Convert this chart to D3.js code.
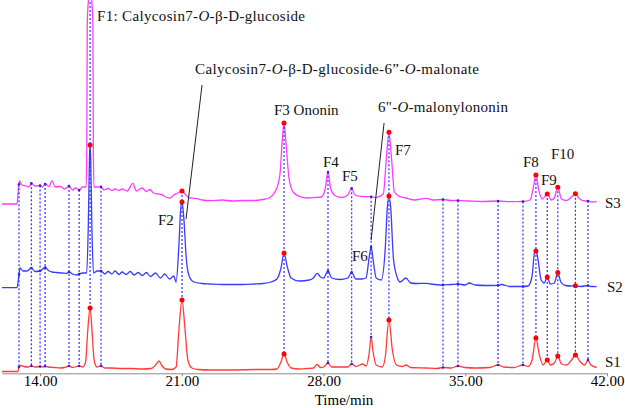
<!DOCTYPE html>
<html lang="en">
<head>
  <meta charset="UTF-8">
  <title>HPLC fingerprints S1-S3</title>
  <script src="https://cdn.jsdelivr.net/npm/d3@7"></script>
  <style>
    body { margin: 0; background: #fff; }
  </style>
</head>
<body>
<svg></svg>
<script>
  const width = 625, height = 408
  const serif = '"Liberation Serif", "Times New Roman", "DejaVu Serif", serif'

  // [time (min), signal above own baseline]
  const s1 = [[12.12, 0.5], [12.91, 0.5], [12.96, 5], [13.05, 6.5], [13.2, 5.5], [13.4, 5], [13.57, 6], [13.75, 5],
    [14.0, 5.5], [14.12, 5], [14.25, 5.8], [14.4, 5], [14.7, 4.5], [15.0, 4], [15.2, 4.5], [15.43, 6], [15.6, 4.5],
    [15.93, 6], [16.1, 5], [16.25, 10], [16.35, 40], [16.47, 64], [16.57, 40], [16.67, 12], [16.81, 5], [17.01, 6],
    [17.2, 4], [17.5, 4], [18.0, 3.5], [18.5, 3.5], [19.0, 3], [19.5, 3.5], [19.75, 8], [19.88, 11], [20.0, 7],
    [20.2, 3], [20.5, 2.5], [20.72, 5], [20.85, 40], [21.01, 72], [21.15, 45], [21.3, 12], [21.5, 4], [21.8, 2.5],
    [22.4, 2], [23.5, 2], [24.6, 2.5], [25.4, 2.5], [25.7, 3], [25.9, 10], [26.05, 18], [26.2, 10], [26.4, 4],
    [26.8, 3], [27.2, 3.5], [27.5, 4], [27.68, 7.5], [27.85, 4.5], [28.0, 5], [28.22, 9], [28.4, 5], [28.8, 5],
    [29.2, 5], [29.39, 8], [29.6, 5.5], [29.94, 8], [30.1, 6], [30.25, 18], [30.35, 35], [30.45, 20], [30.6, 7],
    [30.9, 5], [31.05, 15], [31.23, 52], [31.4, 22], [31.6, 7], [31.9, 5.5], [32.07, 7], [32.3, 4.5], [33.0, 4],
    [33.6, 3.5], [33.9, 4.5], [34.3, 4], [34.64, 6], [35.0, 4.5], [35.5, 4], [36.2, 4.5], [36.62, 7], [36.9, 5],
    [37.4, 4.5], [37.85, 7], [38.1, 5.5], [38.3, 12], [38.49, 34], [38.65, 18], [38.85, 7], [39.05, 12], [39.2, 7],
    [39.4, 9], [39.57, 16], [39.75, 8], [40.0, 7], [40.25, 12], [40.44, 17], [40.65, 11], [40.9, 7], [41.06, 12],
    [41.2, 7], [41.49, 4.5]]

  const s2 = [[12.12, 0.3], [12.86, 0.3], [12.95, 12], [13.01, 20], [13.15, 17], [13.35, 17], [13.57, 20], [13.75, 16.5],
    [14.0, 17], [14.25, 20.5], [14.45, 17], [14.59, 16], [14.8, 15.5], [15.1, 15], [15.3, 14.5], [15.43, 16], [15.6, 14],
    [15.8, 13], [15.93, 14], [16.1, 15], [16.3, 15], [16.38, 60], [16.44, 130], [16.47, 143], [16.5, 130], [16.56, 60],
    [16.64, 15], [16.81, 17], [17.01, 17], [17.2, 14], [17.36, 16.5], [17.55, 14], [17.7, 17], [17.9, 13.5], [18.05, 16],
    [18.25, 13.5], [18.45, 16.5], [18.65, 13], [18.85, 15.5], [19.05, 12.5], [19.25, 15.5], [19.45, 11.5], [19.7, 15],
    [19.95, 10], [20.15, 14], [20.4, 9], [20.6, 12], [20.72, 6], [20.85, 40], [20.95, 80], [21.01, 86], [21.1, 70],
    [21.22, 30], [21.36, 12], [21.6, 6], [22.0, 4.5], [22.4, 4], [23.0, 3.5], [24.0, 3.5], [24.6, 4], [25.0, 4.5],
    [25.4, 6], [25.7, 9], [25.9, 20], [26.05, 35], [26.2, 22], [26.4, 10], [26.8, 7], [27.3, 8], [27.5, 10],
    [27.68, 14.7], [27.85, 11], [28.0, 10], [28.22, 17], [28.4, 10], [28.8, 8.5], [29.2, 10], [29.39, 15.7], [29.6, 9],
    [29.9, 9], [30.1, 10], [30.25, 30], [30.35, 41], [30.47, 25], [30.6, 10], [30.85, 8], [31.05, 40], [31.15, 80],
    [31.23, 92], [31.32, 80], [31.45, 30], [31.65, 10], [31.78, 6], [32.07, 10], [32.3, 5], [32.6, 4.5], [33.06, 4.7],
    [33.3, 4], [33.9, 3], [34.3, 3.5], [34.64, 4], [35.0, 3], [35.19, 5], [35.5, 3], [36.0, 2.5], [36.62, 2.7],
    [36.8, 3.5], [37.2, 1.5], [37.85, 1.5], [38.1, 2], [38.3, 12], [38.42, 35], [38.49, 37], [38.58, 30], [38.75, 8],
    [38.9, 5], [39.05, 11], [39.2, 4], [39.4, 5], [39.57, 15.5], [39.72, 6], [39.95, 2.5], [40.2, 2], [40.44, 2.2],
    [40.7, 1.5], [41.06, 2.5], [41.2, 1.5], [41.49, 1.3]]

  const s3 = [[12.12, 0], [12.86, 0], [12.93, 15], [12.98, 23], [13.1, 19], [13.3, 18], [13.45, 17], [13.57, 20.7],
    [13.75, 18], [14.0, 18.5], [14.12, 17], [14.25, 20], [14.45, 17.5], [14.59, 23.3], [14.75, 17], [15.0, 17.5],
    [15.2, 15], [15.43, 18], [15.6, 14], [15.75, 16], [15.93, 14], [16.1, 17], [16.28, 17], [16.31, 60], [16.33, 180],
    [16.4, 204], [16.47, 206], [16.54, 204], [16.61, 180], [16.63, 60], [16.66, 17], [16.85, 17], [17.01, 17.3],
    [17.15, 14], [17.36, 15.5], [17.55, 13.5], [17.7, 15], [17.9, 13.5], [18.05, 15], [18.3, 13], [18.59, 20.7],
    [18.75, 13], [19.04, 16], [19.25, 12.5], [19.43, 14.5], [19.6, 11], [19.8, 10], [20.0, 9.5], [20.2, 7], [20.42, 6],
    [20.6, 9], [20.8, 11], [21.01, 13], [21.2, 9], [21.4, 6], [21.65, 5.7], [22.0, 4], [22.4, 3.3], [23.0, 4],
    [23.5, 3], [24.0, 3.5], [24.6, 3.5], [25.0, 4.5], [25.3, 6], [25.65, 14], [25.85, 30], [25.95, 60], [26.05, 81],
    [26.15, 60], [26.3, 25], [26.5, 12], [26.84, 7.3], [27.2, 6], [27.6, 6.5], [27.9, 7], [28.08, 15], [28.22, 32],
    [28.36, 15], [28.6, 8], [28.9, 6.5], [29.2, 9], [29.39, 15.7], [29.55, 9], [29.9, 7.5], [30.35, 7.3], [30.6, 6.5],
    [30.95, 10], [31.1, 45], [31.23, 71.7], [31.36, 45], [31.5, 12], [31.78, 7.3], [32.07, 6], [32.5, 4], [33.06, 5.7],
    [33.4, 4], [33.9, 4.5], [34.3, 3.5], [34.64, 3.5], [35.2, 3], [35.8, 2.5], [36.62, 3], [37.2, 2.3], [37.85, 2.5],
    [38.2, 4], [38.35, 15], [38.49, 29], [38.62, 15], [38.8, 5], [39.05, 10], [39.25, 4], [39.4, 6], [39.57, 16.7],
    [39.75, 5], [40.0, 3.5], [40.25, 7], [40.44, 10.3], [40.65, 5], [40.9, 3], [41.06, 3], [41.25, 2], [41.49, 2.3]]

  // common peaks linked by dashed lines
  const linkTimes = [12.96, 13.57, 14.0, 14.25, 15.43, 15.93, 16.47, 17.01, 21.01, 26.05, 28.22, 29.39, 30.35,
    31.23, 33.9, 34.64, 36.62, 37.85, 38.49, 39.05, 39.57, 40.44, 41.06]
  // marked peaks (red dots)
  const markTimes = [16.47, 21.01, 26.05, 31.23, 38.49, 39.05, 39.57, 40.44]
  const tickValues = [14, 21, 28, 35, 42]

  const traces = [
    {name: 'S1', data: s1, offset: 0, color: '#ff3b3b'},
    {name: 'S2', data: s2, offset: 84, color: '#3b3bff'},
    {name: 'S3', data: s3, offset: 168, color: '#ff3bff'}
  ]

  const svg = d3.select('svg')
      .attr('width', width)
      .attr('height', height)
      .attr('viewBox', [0, 0, width, height])
      .style('display', 'block')

  const x = d3.scaleLinear().domain([12.12, 42]).range([2, 607])
  const y = d3.scaleLinear().domain([0, 370]).range([372, 2])

  const bis = d3.bisector(d => d[0]).left
  const valueAt = (data, t) => {
    const i = bis(data, t)
    if (i <= 0) return data[0][1]
    if (i >= data.length) return data[data.length - 1][1]
    const a = data[i - 1], b = data[i]
    return a[1] + (b[1] - a[1]) * (t - a[0]) / (b[0] - a[0])
  }

  // x axis
  const axis = svg.append('g')
      .attr('transform', `translate(0,${y(-1.3)})`)
      .attr('font-family', serif)
      .attr('font-size', 15)
      .call(d3.axisBottom(x).tickValues(tickValues).tickSize(3).tickPadding(-1).tickSizeOuter(0)
          .tickFormat(d3.format('.2f')))
  axis.attr('font-family', serif).attr('font-size', 15)
  axis.select('.domain').attr('stroke', '#8a8a8a')
  axis.selectAll('.tick line').attr('stroke', '#8a8a8a')
  axis.selectAll('.tick text').attr('fill', '#000')

  svg.append('text')
      .attr('x', 344).attr('y', 405)
      .attr('text-anchor', 'middle')
      .attr('font-family', serif)
      .attr('font-size', 15)
      .text('Time/min')

  // traces
  const line = d3.line().curve(d3.curveMonotoneX)
  traces.forEach(tr => {
    svg.append('path')
        .attr('d', line.x(d => x(d[0])).y(d => y(d[1] + tr.offset))(tr.data))
        .attr('fill', 'none')
        .attr('stroke', tr.color)
        .attr('stroke-width', 1.3)
  })

  // dashed links from S3 to S1
  svg.append('g')
      .selectAll('line')
      .data(linkTimes)
      .join('line')
      .attr('x1', t => x(t)).attr('x2', t => x(t))
      .attr('y1', t => y(valueAt(s3, t) + 168))
      .attr('y2', t => y(valueAt(s1, t)))
      .attr('stroke', '#2f2fff')
      .attr('stroke-width', 1.2)
      .attr('stroke-dasharray', '2,2')

  // small markers on every linked peak
  traces.forEach(tr => {
    svg.append('g')
        .selectAll('circle')
        .data(linkTimes)
        .join('circle')
        .attr('cx', t => x(t))
        .attr('cy', t => y(valueAt(tr.data, t) + tr.offset))
        .attr('r', 1.3)
        .attr('fill', '#2a2ad0')
  })

  // red dots on marked peaks
  traces.forEach(tr => {
    svg.append('g')
        .selectAll('circle')
        .data(tr.name === 'S3' ? markTimes.slice(1) : markTimes)
        .join('circle')
        .attr('cx', t => x(t))
        .attr('cy', t => y(valueAt(tr.data, t) + tr.offset))
        .attr('r', 2.5)
        .attr('fill', '#ff0000')
  })

  // leader lines
  const leaders = [
    [[22.0, 287], [21.21, 153]],
    [[30.99, 249], [30.35, 132]]
  ]
  svg.append('g')
      .selectAll('line')
      .data(leaders)
      .join('line')
      .attr('x1', d => x(d[0][0])).attr('y1', d => y(d[0][1]))
      .attr('x2', d => x(d[1][0])).attr('y2', d => y(d[1][1]))
      .attr('stroke', '#222')
      .attr('stroke-width', 1)

  // labels: parts are [text, italic]
  const labels = [
    {x: 97, y: 21, w: 208, parts: [['F1: Calycosin7-', 0], ['O', 1], ['-β-D-glucoside', 0]]},
    {x: 195, y: 74, w: 284, parts: [['Calycosin7-', 0], ['O', 1], ['-β-D-glucoside-6”-', 0], ['O', 1], ['-malonate', 0]]},
    {x: 274, y: 115, parts: [['F3 Ononin', 0]]},
    {x: 378, y: 112, w: 130, parts: [['6"-', 0], ['O', 1], ['-malonylononin', 0]]},
    {x: 323, y: 167, parts: [['F4', 0]]},
    {x: 342, y: 181, parts: [['F5', 0]]},
    {x: 395, y: 155, parts: [['F7', 0]]},
    {x: 523, y: 167, parts: [['F8', 0]]},
    {x: 541, y: 185, parts: [['F9', 0]]},
    {x: 551, y: 159, parts: [['F10', 0]]},
    {x: 158, y: 225, parts: [['F2', 0]]},
    {x: 352, y: 261, parts: [['F6', 0]]},
    {x: 605, y: 208, parts: [['S3', 0]]},
    {x: 607, y: 292, parts: [['S2', 0]]},
    {x: 605, y: 367, parts: [['S1', 0]]}
  ]
  labels.forEach(l => {
    const t = svg.append('text')
        .attr('x', l.x).attr('y', l.y)
        .attr('font-family', serif)
        .attr('font-size', 15)
        .attr('fill', '#111')
    l.parts.forEach(p => {
      t.append('tspan').attr('font-style', p[1] ? 'italic' : 'normal').text(p[0])
    })
    if (l.w) t.attr('textLength', l.w).attr('lengthAdjust', 'spacing')
  })
</script>
</body>
</html>
